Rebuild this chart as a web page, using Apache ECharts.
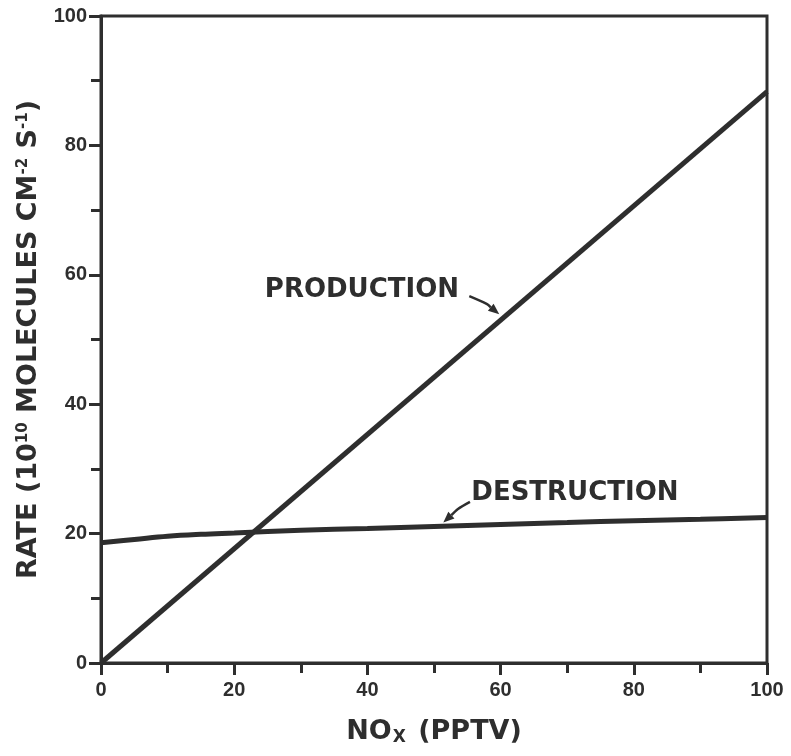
<!DOCTYPE html>
<html><head><meta charset="utf-8">
<script src="https://cdn.jsdelivr.net/npm/echarts@6/dist/echarts.min.js"></script>
<style>html,body{margin:0;padding:0;background:#fff}#c{width:791px;height:756px}</style>
</head><body><div id="c"></div>
<script>
const xTicks = [0, 20, 40, 60, 80, 100];
const yTicks = [0, 20, 40, 60, 80, 100];
const productionX = [0, 100];
const productionY = [0, 88.3];
const destructionX = [0, 5, 10, 15, 20, 30, 40, 50, 60, 70, 80, 90, 100];
const destructionY = [18.6, 19.1, 19.6, 19.9, 20.1, 20.5, 20.8, 21.1, 21.4, 21.7, 22.0, 22.2, 22.5];
const labelTexts = ['PRODUCTION', 'DESTRUCTION'];

const INK = '#2e2e2e';
const FONT = '"Liberation Sans", Arial, sans-serif';
const WFONT = '"DejaVu Sans", Verdana, sans-serif';
const chart = echarts.init(document.getElementById('c'));

const axisCommon = {
  min: 0, max: 100, interval: 20,
  axisLine: { lineStyle: { color: INK, width: 3 } },
  axisTick: { show: true, inside: false, length: 12, lineStyle: { color: INK, width: 3 } },
  minorTick: { show: true, splitNumber: 2, length: 10, lineStyle: { color: INK, width: 3 } },
  splitLine: { show: false },
  axisLabel: { color: INK, fontFamily: FONT, fontWeight: 'bold', fontSize: 20 }
};

chart.setOption({
  animation: false,
  backgroundColor: '#fff',
  grid: { left: 101, right: 24, top: 16, bottom: 93, show: true, borderColor: INK, borderWidth: 3 },
  xAxis: Object.assign({}, axisCommon, {
    type: 'value',
    name: 'NO{sub|X} (PPTV)',
    nameLocation: 'middle', nameGap: 55,
    nameTextStyle: { color: INK, fontFamily: WFONT, fontWeight: 'bold', fontSize: 27,
      rich: { sub: { fontFamily: WFONT, fontWeight: 'bold', fontSize: 17, verticalAlign: 'bottom', padding: [11, 3, 0, 1], color: INK } } },
    axisLabel: Object.assign({}, axisCommon.axisLabel, { margin: 17,
      formatter: v => xTicks.includes(v) ? String(v) : '' })
  }),
  yAxis: Object.assign({}, axisCommon, {
    type: 'value',
    name: 'RATE (10{sup|10} MOLECULES CM{sup|-2} S{sup|-1})',
    nameLocation: 'middle', nameGap: 58, nameRotate: 90,
    nameTextStyle: { color: INK, fontFamily: WFONT, fontWeight: 'bold', fontSize: 27,
      rich: { sup: { fontFamily: WFONT, fontWeight: 'bold', fontSize: 15, verticalAlign: 'top', padding: [0, 0, 12, 0], color: INK } } },
    axisLabel: Object.assign({}, axisCommon.axisLabel, { margin: 14,
      formatter: v => yTicks.includes(v) ? String(v) : '' })
  }),
  series: [
    { name: 'Production', type: 'line', showSymbol: false,
      data: productionX.map((x, i) => [x, productionY[i]]),
      lineStyle: { color: INK, width: 5 } },
    { name: 'Destruction', type: 'line', showSymbol: false, smooth: 0.4,
      data: destructionX.map((x, i) => [x, destructionY[i]]),
      lineStyle: { color: INK, width: 5 } }
  ]
});

function arrow(ptsData) {
  const pts = ptsData.map(p => chart.convertToPixel({ gridIndex: 0 }, p));
  const a = pts[pts.length - 2], b = pts[pts.length - 1];
  const ang = Math.atan2(b[1] - a[1], b[0] - a[0]);
  const L = 11, W = 4.5;
  const base = [b[0] - L * Math.cos(ang), b[1] - L * Math.sin(ang)];
  const head = [b,
    [base[0] + W * Math.sin(ang), base[1] - W * Math.cos(ang)],
    [base[0] - W * Math.sin(ang), base[1] + W * Math.cos(ang)]];
  const shaft = pts.slice(0, -1).concat([base]);
  return [
    { type: 'polyline', shape: { points: shaft, smooth: 0.3 }, style: { stroke: INK, lineWidth: 2.5, fill: null } },
    { type: 'polygon', shape: { points: head }, style: { fill: INK } }
  ];
}

function place() {
  const p1 = chart.convertToPixel({ gridIndex: 0 }, [24.6, 57.3]);
  const p2 = chart.convertToPixel({ gridIndex: 0 }, [55.6, 26.0]);
  const g = [
    { type: 'text', left: p1[0], top: p1[1] - 15, style: { text: labelTexts[0], fill: INK, font: 'bold 26px ' + WFONT } },
    { type: 'text', left: p2[0], top: p2[1] - 15, style: { text: labelTexts[1], fill: INK, font: 'bold 26px ' + WFONT } }
  ].concat(arrow([[55.3, 56.7], [57.9, 55.5], [59.8, 53.9]]))
   .concat(arrow([[55.4, 24.9], [53.6, 23.8], [51.4, 21.7]]));
  chart.setOption({ graphic: g });
}
place();
</script></body></html>
